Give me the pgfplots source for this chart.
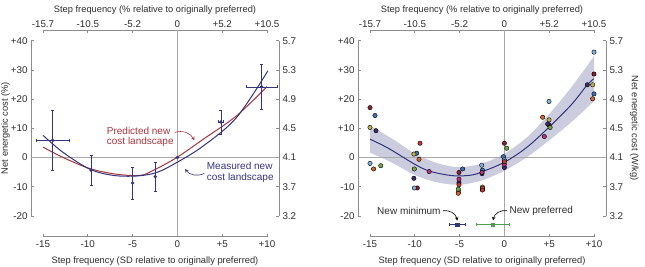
\documentclass[border=0pt]{standalone}
\usepackage{pgfplots}
\pgfplotsset{compat=1.18}
\usepgfplotslibrary{fillbetween}
\usepackage{fontspec}
\setmainfont{Liberation Sans}
\definecolor{axgray}{HTML}{8C8C8C}
\definecolor{txtgray}{HTML}{2E2E2E}
\definecolor{zline}{HTML}{A8A8A8}
\definecolor{navy}{HTML}{33357E}
\definecolor{predred}{HTML}{A8343E}
\definecolor{bandc}{HTML}{CCCCDF}
\definecolor{prefgreen}{HTML}{4E9E4E}
\definecolor{sA}{HTML}{8B1E32}
\definecolor{sB}{HTML}{3E6DB5}
\definecolor{sC}{HTML}{C2AE4C}
\definecolor{sD}{HTML}{3F2A6E}
\definecolor{sE}{HTML}{7FB2DA}
\definecolor{sF}{HTML}{D2652F}
\definecolor{sG}{HTML}{76A545}
\definecolor{sH}{HTML}{B4337A}
\definecolor{sI}{HTML}{C0392F}
\pgfplotsset{
  panelbase/.style={
    scale only axis, width=224pt, height=175.3pt,
    xmin=-15, xmax=10, ymin=-20, ymax=40,
    enlargelimits=false, clip=false, anchor=south west,
    axis line style={draw=axgray, line width=0.7pt, -},
    tick style={draw=axgray, line width=0.7pt},
    tick align=inside, major tick length=3pt,
    xtick={-15,-10,-5,0,5,10}, ytick={-20,-10,0,10,20,30,40},
    ticklabel style={font=\fontsize{9.8}{10}\selectfont, text=txtgray},
    label style={font=\fontsize{9.3}{10}\selectfont, text=txtgray},
  },
  bottomleft/.style={panelbase,
    axis x line*=bottom, axis y line*=left,
    axis x line shift=20.5pt, axis y line shift=12pt,
    xticklabels={-15,-10,-5,0,+5,+10},
    yticklabels={-20,-10,0,+10,+20,+30,+40},
    xticklabel shift=1pt,
    xlabel={Step frequency (SD relative to originally preferred)},
    xlabel style={yshift=-1.5pt},
  },
  topright/.style={panelbase,
    axis x line*=top, axis y line*=right,
    axis x line shift=10.7pt, axis y line shift=12pt,
    xticklabels={-15.7,-10.5,-5.2,0,+5.2,+10.5},
    yticklabels={3.2,3.7,4.1,4.5,4.9,5.3,5.7},
    xticklabel shift=-1.5pt,
    xlabel={Step frequency (\% relative to originally preferred)},
  },
  subj/.style={only marks, mark=*, mark size=2.2pt, mark options={draw=none, fill=#1}},
}
\begin{document}
\begin{tikzpicture}[x=1pt,y=1pt]
% ================= LEFT PANEL =================
\begin{axis}[topright, at={(43pt,50pt)}]
\end{axis}
\begin{axis}[bottomleft, at={(43pt,50pt)}]
\addplot[zline, line width=0.6pt] coordinates {(0,43.7) (0,-27)};
\addplot[zline, line width=0.6pt] coordinates {(-16.34,0) (11.34,0)};
% predicted (red) and measured (blue) curves
\addplot[predred, line width=1pt, smooth, tension=0.55] coordinates {
 (-15,3.6) (-12.73,0) (-9.75,-3.8) (-6.78,-5.7) (-4.17,-6.1) (-2.7,-4.4)
 (-0.08,0) (2.9,6.3) (6.6,14.3) (10,24.3)};
\addplot[navy, line width=1pt, smooth, tension=0.55] coordinates {
 (-15,7.6) (-12.73,1.7) (-9.75,-4.0) (-7.15,-6.1) (-4.54,-6.3) (-2.31,-5.1)
 (-0.08,-1.7) (2.9,4.0) (6.6,13.7) (10.1,29.7)};
% data with x and y error bars
\addplot[navy, only marks, mark=*, mark size=1.5pt,
  error bars/.cd, x dir=both, x explicit, y dir=both, y explicit,
  error bar style={navy, line width=0.6pt}]
 coordinates {(-13.92,5.9) +- (1.86,10.2) (4.85,12.2) +- (0.3,4.1) (9.4,24.2) +- (1.75,7.6)};
\addplot[navy, only marks, mark=*, mark size=1.5pt,
  error bars/.cd, y dir=both, y explicit,
  error bar style={navy, line width=0.6pt}]
 coordinates {(-9.64,-4.3) +- (0,5.2) (-4.99,-8.7) +- (0,5.5) (-2.47,-6.5) +- (0,5.05)};
\addplot[navy, only marks, mark=*, mark size=1.5pt] coordinates {(0,0)};
% annotations
\node[anchor=west, align=left, text=predred, font=\fontsize{10}{10.5}\selectfont, inner sep=0pt]
  at (axis cs:-7.89,7.15) {Predicted new\\cost landscape};
\draw[predred, line width=0.6pt, -stealth] (axis cs:-0.3,8.6) to[bend left=40] (axis cs:1.9,5.9);
\node[anchor=west, align=left, text=navy, font=\fontsize{10}{10.5}\selectfont, inner sep=0pt]
  at (axis cs:3.27,-5.0) {Measured new\\cost landscape};
\draw[navy, line width=0.6pt, -stealth] (axis cs:3.0,-5.4) to[bend left=40] (axis cs:0.85,-3.9);
\end{axis}
\node[rotate=90, font=\fontsize{9.3}{10}\selectfont, text=txtgray] at (5.5,138) {Net energetic cost (\%)};
% ================= RIGHT PANEL =================
\begin{axis}[topright, at={(370pt,50pt)}, ylabel={Net energetic cost (W/kg)}, ylabel style={rotate=180}]
\end{axis}
\begin{axis}[bottomleft, at={(370pt,50pt)}]
\addplot[name path=upper, draw=none, smooth] coordinates {
 (-15,10.9) (-12.5,6.4) (-10,1.4) (-7.5,-1.9) (-5,-3.3) (-2.5,-2.0) (0,1.3)
 (2.5,6.9) (5,14.9) (7.5,24.2) (10,34.7)};
\addplot[name path=lower, draw=none, smooth] coordinates {
 (-15,1.7) (-12.5,-1.8) (-10,-6.0) (-7.5,-8.5) (-5,-9.3) (-2.5,-7.8) (0,-4.5)
 (2.5,0.1) (5,5.9) (7.5,12.2) (10,19.3)};
\addplot[bandc, draw=none] fill between[of=upper and lower];
\addplot[zline, line width=0.6pt] coordinates {(0,43.7) (0,-27)};
\addplot[zline, line width=0.6pt] coordinates {(-16.34,0) (11.34,0)};
\addplot[navy, line width=1pt, smooth, tension=0.55] coordinates {
 (-15,6.3) (-12.96,3.2) (-10,-2.3) (-8.4,-4.6) (-6.5,-5.9) (-5.07,-6.3) (-3.5,-5.9)
 (-2.53,-4.9) (0,-1.6) (2.5,3.5) (4.98,10.4) (7.5,18.2) (9.25,24.9) (10,27)};
% individual subjects
\addplot[subj=sA] coordinates {(-15,17.1) (-9.72,-10.4) (-2.45,-11.0) (-5.07,-5.1) (0,4.9) (4.98,11.1) (10,28.6)};
\addplot[subj=sB] coordinates {(-14.44,14.4) (-9.79,1.5) (-4.66,-3.9) (-2.45,-4.3) (-0.1,0.3) (10,21.8)};
\addplot[subj=sC] coordinates {(-15,10.3) (-10.1,1.2) (-5.1,-11.7) (-2.45,-10.1) (4.98,12.9) (9.85,24.9)};
\addplot[subj=sD] coordinates {(-14.33,9.2) (-10.1,-7.1) (-5.07,-8.6) (-2.5,-5.5) (0,-3.4) (4.83,11.5) (9.25,24.9)};
\addplot[subj=sE] coordinates {(-15,-2.0) (-10.05,-10.4) (-2.53,-2.6) (0,-0.8) (4.98,19.2) (10,36.1)};
\addplot[subj=sF] coordinates {(-14.6,-3.9) (-9.53,-0.6) (-5.15,-12.2) (-2.45,-10.5) (4.27,13.8) (9.85,20.1)};
\addplot[subj=sG] coordinates {(-13.8,-2.8) (-10.05,-3.9) (-5.15,-10.8) (0.26,3.2) (5.1,10.3)};
\addplot[subj=sH] coordinates {(-8.4,-4.8) (-5.07,-7.4) (-2.5,-5.1) (0,-2.3) (4.46,7.2)};
\addplot[subj=sI] coordinates {(-9.42,4.9) (-5.07,-9.3) (-2.45,-11.1) (0,-1.4)};
% new minimum / new preferred
\addplot[navy, only marks, mark=square*, mark size=1.6pt,
  error bars/.cd, x dir=both, x explicit, error bar style={navy, line width=0.8pt}]
  coordinates {(-5.26,-23) +- (0.91,0)};
\addplot[prefgreen, only marks, mark=square*, mark size=1.6pt,
  error bars/.cd, x dir=both, x explicit, error bar style={prefgreen, line width=0.8pt}]
  coordinates {(-1.3,-23) +- (1.86,0)};
\node[anchor=east, text=txtgray, font=\fontsize{10}{10}\selectfont, inner sep=0pt]
  at (axis cs:-7.1,-18.2) {New minimum};
\draw[black, line width=0.6pt, -stealth] (axis cs:-6.85,-18.2) to[bend left=45] (axis cs:-5.26,-21.6);
\node[anchor=west, text=txtgray, font=\fontsize{10}{10}\selectfont, inner sep=0pt]
  at (axis cs:0.55,-18.2) {New preferred};
\draw[black, line width=0.6pt, -stealth] (axis cs:0.3,-18.2) to[bend right=45] (axis cs:-1.27,-21.5);
\end{axis}
\pgfresetboundingbox
\useasboundingbox (0,0) rectangle (645,266);
\end{tikzpicture}
\end{document}
